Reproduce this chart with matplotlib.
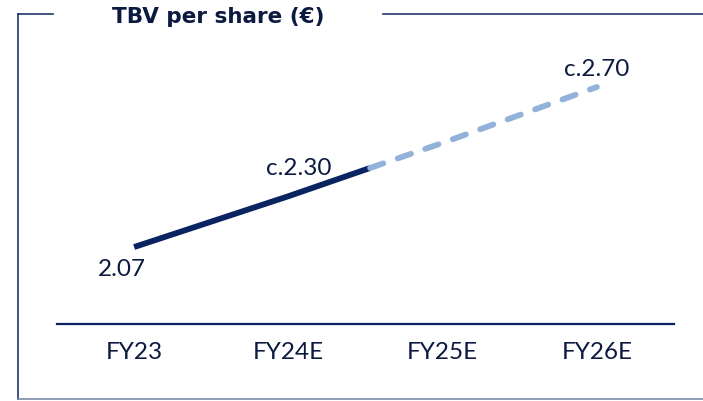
import matplotlib.pyplot as plt
from matplotlib.lines import Line2D

# data
years = ["FY23", "FY24E", "FY25E", "FY26E"]
tbv = [2.07, 2.27, 2.48, 2.70]
labels = ["2.07", "c.2.30", "", "c.2.70"]

navy = "#0a2461"
light = "#93b2d9"
text_col = "#0c1a40"
body_font = ['Lato', 'DejaVu Sans']

W, H = 703, 402
plt.rcParams['font.family'] = body_font
fig = plt.figure(figsize=(W / 100, H / 100), dpi=100)


def fx(px):
    return px / W


def fy(py):
    return 1 - py / H


# axes placed in pixel coords
ax = fig.add_axes([fx(57), fy(325), fx(674) - fx(57), fy(40) - fy(325)])
ax.set_xlim(-0.5, 3.5)
ax.set_ylim(1.767, 2.889)

# solid part up to halfway between FY24E and FY25E, dashed after
x = list(range(len(years)))
mid_x = 1.53
mid_y = tbv[1] + (tbv[2] - tbv[1]) * (mid_x - 1)
ax.plot(x[:2] + [mid_x], tbv[:2] + [mid_y], color=navy, lw=4.2,
        solid_capstyle='butt', solid_joinstyle='round')
ax.plot([mid_x] + x[2:], [mid_y] + tbv[2:], color=light, lw=4.2,
        dashes=(2.4, 2.6), dash_capstyle='round')

# value labels
ax.text(x[0] - 0.08, tbv[0] - 0.045, labels[0], ha='center', va='top',
        fontsize=17.5, color=text_col, family=body_font)
ax.text(x[1] + 0.07, tbv[1] + 0.07, labels[1], ha='center', va='bottom',
        fontsize=17.5, color=text_col, family=body_font)
ax.text(x[3], tbv[3] + 0.03, labels[3], ha='center', va='bottom',
        fontsize=17.5, color=text_col, family=body_font)

ax.set_xticks(x)
ax.set_xticklabels(years, fontsize=17.5, color=text_col, family=body_font)
ax.tick_params(axis='x', length=0, pad=12)
ax.set_yticks([])
for s in ['top', 'right', 'left']:
    ax.spines[s].set_visible(False)
ax.spines['bottom'].set_color(navy)
ax.spines['bottom'].set_linewidth(1.6)
ax.patch.set_alpha(0)

# frame around the chart
frame = "#23356b"
fig.add_artist(Line2D([fx(18), fx(18)], [fy(15), fy(400)], color=frame, lw=1.2))
fig.add_artist(Line2D([fx(18), fx(53)], [fy(15), fy(15)], color=frame, lw=1.2))
fig.add_artist(Line2D([fx(383), fx(703)], [fy(15), fy(15)], color=frame, lw=1.2))
fig.add_artist(Line2D([fx(18), fx(703)], [fy(400), fy(400)], color="#7a8aa8", lw=1.2))

fig.text(fx(218), fy(17), "TBV per share (€)", ha='center', va='center',
         fontsize=15.5, fontweight='bold', color=text_col,
         family=['DejaVu Sans'])

fig.savefig("out.png", dpi=100)
